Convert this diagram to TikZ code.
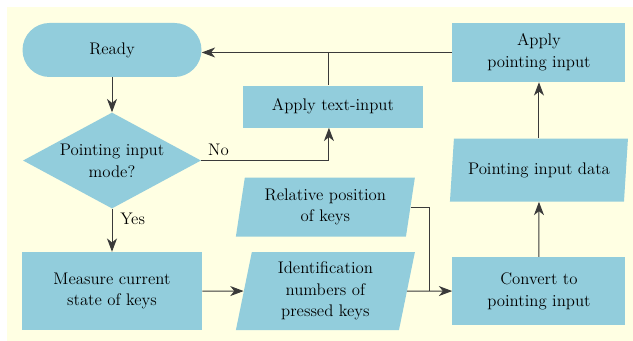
\documentclass[tikz,border=0pt]{standalone}
\usepackage{fontspec}
\usetikzlibrary{shapes.geometric}
\usetikzlibrary{positioning}
\usetikzlibrary{arrows.meta}
\usetikzlibrary{calc}

\definecolor{boxblue}{HTML}{92CDDC}
\definecolor{paper}{HTML}{FFFFE3}
\definecolor{wire}{HTML}{3A3A3A}

\begin{document}
\begin{tikzpicture}[
    font=\fontsize{12.6}{16.25}\selectfont,
    >={Stealth[length=10pt,width=7.5pt,inset=3pt]},
    stepbox/.style={rectangle, fill=boxblue, align=center, inner sep=2pt},
    terminal/.style={rectangle, rounded corners=20.25pt, fill=boxblue, align=center, inner sep=2pt},
    decision/.style={diamond, aspect=1.85, fill=boxblue, align=center, inner sep=0pt},
    iobox/.style={trapezium, trapezium stretches body, fill=boxblue, align=center, inner sep=2pt},
    link/.style={draw=wire, line width=0.75pt},
    tag/.style={inner sep=2pt}
  ]

    \useasboundingbox (0,0) rectangle (474.75pt,-255.75pt);
    \fill[paper] (5.25pt,-5.25pt) rectangle (474.75pt,-255.75pt);

    \node (Ready) [terminal, minimum width=134.25pt, minimum height=40.5pt] at (84pt,-37.5pt) {Ready};
    \node (Mode) [decision, minimum width=133.5pt, minimum height=72pt, below=26.25pt of Ready] {Pointing input\\mode?};
    \node (Measure) [stepbox, minimum width=135pt, minimum height=58.5pt, below=32.25pt of Mode] {Measure current\\state of keys};
    \node (KeyIDs) [iobox, trapezium left angle=76, trapezium right angle=104, minimum width=134.25pt, minimum height=58.5pt, right=31pt of Measure] {Identification\\numbers of\\pressed keys};
    \node (KeyPos) [iobox, trapezium left angle=78, trapezium right angle=102, minimum width=134.25pt, minimum height=44.25pt, above=11.25pt of KeyIDs] {Relative position\\of keys};
    \node (Convert) [stepbox, minimum width=129.75pt, minimum height=51pt, right=33.75pt of KeyIDs] {Convert to\\pointing input};
    \node (PointData) [iobox, trapezium left angle=79, trapezium right angle=101, minimum width=133.5pt, minimum height=47.25pt, above=41.25pt of Convert] {Pointing input data};
    \node (ApplyPointing) [stepbox, minimum width=129.75pt, minimum height=44.25pt, above=42pt of PointData] {Apply\\pointing input};
    \node (ApplyText) [stepbox, minimum width=135pt, minimum height=31.5pt, below left=2.25pt and 21.75pt of ApplyPointing] {Apply text-input};

    \node (NoTag) [tag, above right=1.75pt and 3pt of Mode.east] {No};
    \node (YesTag) [tag, below right=0.75pt and 4pt of Mode.south] {Yes};
    \coordinate (Merge) at ($(KeyIDs.east)!0.5!(Convert.west)$);

    \draw[link, ->] (Ready) -- (Mode);
    \draw[link, ->] (Mode) -- (Measure);
    \draw[link, ->] (Measure) -- (KeyIDs);
    \draw[link, ->] (KeyIDs) -- (Convert);
    \draw[link] (KeyPos.east) -| (Merge);
    \draw[link, ->] (Convert) -- (PointData);
    \draw[link, ->] (PointData.north) -- (PointData.north |- ApplyPointing.south);
    \draw[link, ->] (Mode.east) -| ([xshift=-3pt]ApplyText.south);
    \draw[link, ->] (ApplyPointing.west) -- (ApplyPointing.west -| Ready.east);
    \draw[link] ([xshift=-3pt]ApplyText.north) -- ([xshift=-3pt]ApplyText.north |- ApplyPointing.west);

\end{tikzpicture}
\end{document}
